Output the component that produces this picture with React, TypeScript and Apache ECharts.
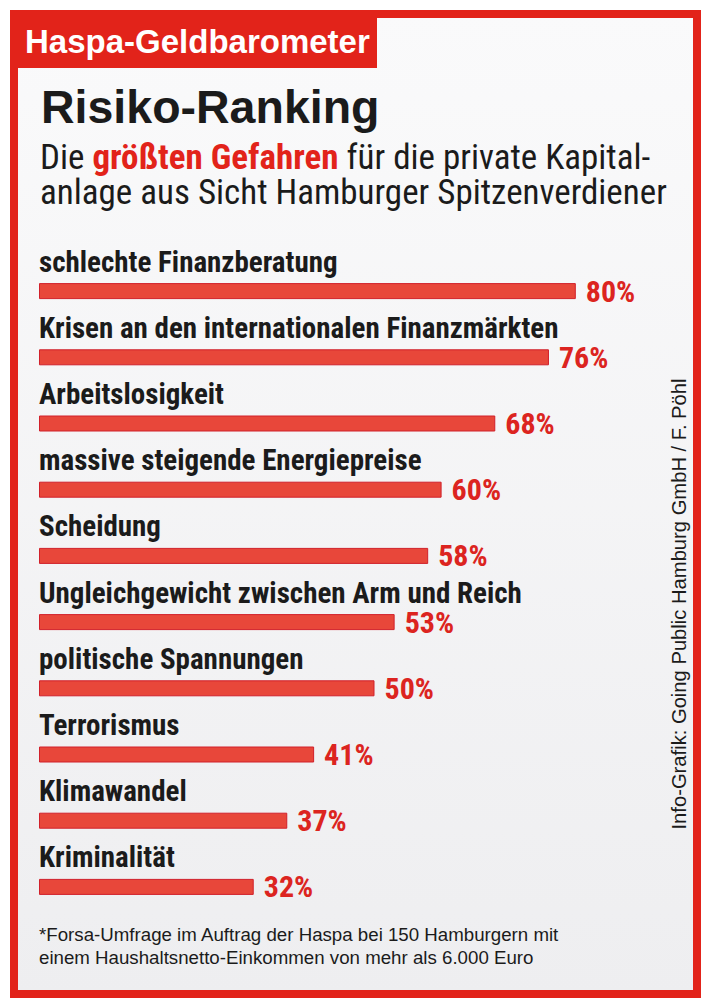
import React, { useEffect, useRef } from "react";
import * as echarts from "echarts";

const categories = [
  "schlechte Finanzberatung",
  "Krisen an den internationalen Finanzmärkten",
  "Arbeitslosigkeit",
  "massive steigende Energiepreise",
  "Scheidung",
  "Ungleichgewicht zwischen Arm und Reich",
  "politische Spannungen",
  "Terrorismus",
  "Klimawandel",
  "Kriminalität",
];
const values = [80, 76, 68, 60, 58, 53, 50, 41, 37, 32];

const headerText = "Haspa-Geldbarometer";
const titleText = "Risiko-Ranking";
const subtitleLine1 = ["Die ", "größten Gefahren", " für die private Kapital-"];
const subtitleLine2 = "anlage aus Sicht Hamburger Spitzenverdiener";
const footnoteLines = [
  "*Forsa-Umfrage im Auftrag der Haspa bei 150 Hamburgern mit",
  "einem Haushaltsnetto-Einkommen von mehr als 6.000 Euro",
];
const creditText = "Info-Grafik: Going Public Hamburg GmbH / F. Pöhl";

const NARROW = '"Roboto Condensed", "Liberation Sans Narrow", "DejaVu Sans Condensed", sans-serif';
const WIDE = '"Liberation Sans", Arial, sans-serif';
const RED = "#e2231a";
const DARK = "#1b1b1b";

export default function App() {
  const ref = useRef<HTMLDivElement>(null);
  useEffect(() => {
    document.body.style.margin = "0";
    const chart = echarts.init(ref.current!, null, { renderer: "svg" });
    chart.setOption({
      animation: false,
      backgroundColor: "#ffffff",
      grid: { left: 39, top: 258, width: 679, height: 662, containLabel: false },
      xAxis: { type: "value", min: 0, max: 100, show: false },
      yAxis: { type: "category", data: categories, inverse: true, show: false },
      graphic: [
        {
          type: "rect",
          z: -10,
          shape: { x: 14, y: 14, width: 683, height: 980 },
          style: {
            fill: new echarts.graphic.LinearGradient(0, 0, 0, 1, [
              { offset: 0, color: "#fafafb" },
              { offset: 1, color: "#eeeef0" },
            ]),
            stroke: RED,
            lineWidth: 8,
          },
        },
        {
          type: "rect",
          shape: { x: 10, y: 10, width: 367, height: 58 },
          style: { fill: RED },
        },
        {
          type: "text",
          x: 25,
          y: 41,
          style: { text: headerText, font: `bold 33px ${WIDE}`, fill: "#ffffff", verticalAlign: "middle" },
        },
        {
          type: "text",
          x: 41,
          y: 107,
          style: { text: titleText, font: `bold 46.5px ${WIDE}`, fill: DARK, verticalAlign: "middle" },
        },
        {
          type: "text",
          x: 40,
          y: 139.5,
          style: {
            text:
              `{n|${subtitleLine1[0]}}{r|${subtitleLine1[1]}}{n|${subtitleLine1[2]}}` +
              `\n{n|${subtitleLine2}}`,
            verticalAlign: "top",
            rich: {
              n: { font: `35px ${NARROW}`, fill: DARK, lineHeight: 35 },
              r: { font: `bold 35px ${NARROW}`, fill: RED, lineHeight: 35 },
            },
          },
        },
        {
          type: "text",
          x: 39,
          y: 934,
          style: { text: footnoteLines[0], font: `18.7px ${WIDE}`, fill: DARK, verticalAlign: "middle" },
        },
        {
          type: "text",
          x: 39,
          y: 957,
          style: { text: footnoteLines[1], font: `18.7px ${WIDE}`, fill: DARK, verticalAlign: "middle" },
        },
        {
          type: "text",
          x: 679,
          y: 604,
          rotation: Math.PI / 2,
          style: { text: creditText, font: `20.2px ${WIDE}`, fill: DARK, align: "center", verticalAlign: "middle" },
        },
      ],
      series: [
        {
          type: "bar",
          data: values,
          barWidth: 16,
          itemStyle: { color: "#e8473a", borderColor: "#d1202a", borderWidth: 1 },
          label: {
            show: true,
            position: "right",
            distance: 10,
            formatter: "{c}%",
            color: "#dc2420",
            fontFamily: NARROW,
            fontWeight: "bold",
            fontSize: 30,
            lineHeight: 24,
          },
        },
        {
          type: "bar",
          data: values,
          barWidth: 16,
          barGap: "-100%",
          itemStyle: { color: "rgba(0,0,0,0)" },
          label: {
            show: true,
            position: [0, -10],
            align: "left",
            verticalAlign: "bottom",
            formatter: "{b}",
            color: DARK,
            fontFamily: NARROW,
            fontWeight: "bold",
            fontSize: 29,
            lineHeight: 23,
          },
        },
      ],
    });
    return () => chart.dispose();
  }, []);
  return <div ref={ref} style={{ position: "absolute", left: 0, top: 0, width: 710, height: 1008 }} />;
}
